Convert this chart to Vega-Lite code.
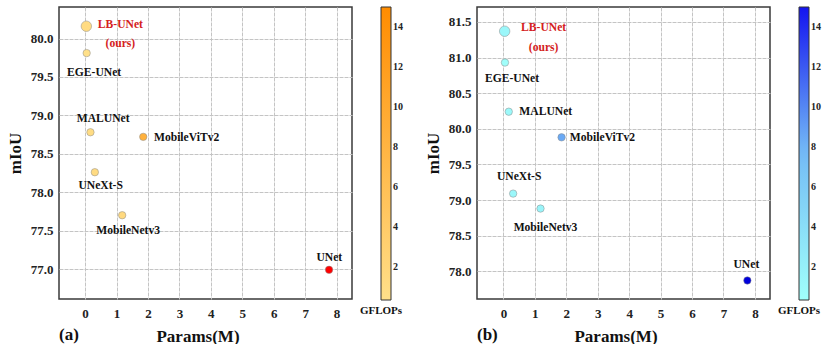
{
  "$schema": "https://vega.github.io/schema/vega-lite/v6.json",
  "background": "white",
  "padding": {"left": 5, "top": 6, "right": 0, "bottom": 0},
  "config": {
    "font": "Liberation Serif",
    "view": {"stroke": "#3a3a3a", "strokeWidth": 1.5},
    "axis": {"labelFontSize": 13, "labelFontWeight": "bold", "labelColor": "#222", "titleFontSize": 17, "titleFontWeight": "bold", "titleColor": "#111", "ticks": false, "domain": false, "gridColor": "#c4c4c4", "gridDash": [4, 1], "labelPadding": 6, "titlePadding": 6},
    "axisX": {"labelPadding": 8, "titlePadding": 8, "titleX": 138.5},
    "legend": {"titleOrient": "bottom", "titleFontSize": 11, "titleFontWeight": "bold", "titleColor": "#111", "labelFontSize": 10, "labelFontWeight": "bold", "labelColor": "#222", "gradientLength": 293, "gradientThickness": 10, "gradientStrokeColor": "#333", "gradientStrokeWidth": 1, "offset": 8, "labelOffset": 6, "labelOverlap": false, "titlePadding": 4, "titleAnchor": "start", "titleAlign": "center", "direction": "vertical"},
    "text": {"font": "Liberation Serif", "fontWeight": "bold", "fontSize": 11.6, "baseline": "middle", "color": "#111"}
  },
  "datasets": {
    "seg": [
      {"model": "LB-UNet", "params": 0.04, "gflops": 1.2, "miou_a": 80.16, "miou_b": 81.37},
      {"model": "EGE-UNet", "params": 0.05, "gflops": 0.4, "miou_a": 79.81, "miou_b": 80.93},
      {"model": "MALUNet", "params": 0.17, "gflops": 1.0, "miou_a": 78.78, "miou_b": 80.24},
      {"model": "MobileViTv2", "params": 1.85, "gflops": 8.5, "miou_a": 78.72, "miou_b": 79.88},
      {"model": "UNeXt-S", "params": 0.31, "gflops": 1.2, "miou_a": 78.26, "miou_b": 79.09},
      {"model": "MobileNetv3", "params": 1.18, "gflops": 1.5, "miou_a": 77.7, "miou_b": 78.88},
      {"model": "UNet", "params": 7.76, "gflops": 40, "miou_a": 76.99, "miou_b": 77.87}
    ]
  },
  "resolve": {"scale": {"fill": "independent", "x": "independent", "y": "independent"}},
  "spacing": 19,
  "hconcat": [
    {
      "width": 293, "height": 292,
      "data": {"name": "seg"},
      "title": {"text": "(a)", "orient": "bottom", "anchor": "start", "frame": "group", "offset": -17, "fontSize": 17, "fontWeight": "bold", "font": "Liberation Serif", "color": "#111"},
      "encoding": {
        "x": {"field": "params", "type": "quantitative", "scale": {"domain": [-0.83, 8.49], "nice": false, "zero": false}, "axis": {"values": [0, 1, 2, 3, 4, 5, 6, 7, 8], "title": "Params(M)"}},
        "y": {"field": "miou_a", "type": "quantitative", "scale": {"domain": [76.61, 80.41], "nice": false, "zero": false}, "axis": {"values": [77, 77.5, 78, 78.5, 79, 79.5, 80], "format": ".1f", "title": "mIoU"}}
      },
      "layer": [
        {
          "mark": {"type": "point", "filled": true, "opacity": 1, "stroke": "#8a8a8a", "strokeWidth": 0.5},
          "encoding": {
            "fill": {"field": "gflops", "type": "quantitative", "scale": {"domain": [0.34, 15], "range": ["#ffe08a", "#ff8c00"], "interpolate": "rgb", "clamp": false, "nice": false, "zero": false}, "legend": {"title": "GFLOPs", "values": [2, 4, 6, 8, 10, 12, 14]}},
            "size": {"condition": {"test": "datum.model === 'LB-UNet'", "value": 110}, "value": 55}
          }
        },
        {"transform": [{"filter": "datum.model === 'LB-UNet'"}], "mark": {"type": "text", "text": ["LB-UNet", "(ours)"], "align": "center", "baseline": "top", "dx": 34, "dy": -7, "lineHeight": 19, "color": "#d42020"}},
        {"transform": [{"filter": "datum.model === 'EGE-UNet'"}], "mark": {"type": "text", "align": "center", "dx": 7.5, "dy": 20}, "encoding": {"text": {"field": "model"}}},
        {"transform": [{"filter": "datum.model === 'MALUNet'"}], "mark": {"type": "text", "align": "center", "dx": 12.7, "dy": -13}, "encoding": {"text": {"field": "model"}}},
        {"transform": [{"filter": "datum.model === 'MobileViTv2'"}], "mark": {"type": "text", "align": "left", "dx": 10.7, "dy": 1}, "encoding": {"text": {"field": "model"}}},
        {"transform": [{"filter": "datum.model === 'UNeXt-S'"}], "mark": {"type": "text", "align": "center", "dx": 5.8, "dy": 13.3}, "encoding": {"text": {"field": "model"}}},
        {"transform": [{"filter": "datum.model === 'MobileNetv3'"}], "mark": {"type": "text", "align": "center", "dx": 6, "dy": 15.3}, "encoding": {"text": {"field": "model"}}},
        {"transform": [{"filter": "datum.model === 'UNet'"}], "mark": {"type": "text", "align": "center", "dx": 0.3, "dy": -12}, "encoding": {"text": {"field": "model"}}}
      ]
    },
    {
      "width": 293, "height": 292,
      "data": {"name": "seg"},
      "title": {"text": "(b)", "orient": "bottom", "anchor": "start", "frame": "group", "offset": -17, "fontSize": 17, "fontWeight": "bold", "font": "Liberation Serif", "color": "#111"},
      "encoding": {
        "x": {"field": "params", "type": "quantitative", "scale": {"domain": [-0.84, 8.48], "nice": false, "zero": false}, "axis": {"values": [0, 1, 2, 3, 4, 5, 6, 7, 8], "title": "Params(M)"}},
        "y": {"field": "miou_b", "type": "quantitative", "scale": {"domain": [77.61, 81.71], "nice": false, "zero": false}, "axis": {"values": [78, 78.5, 79, 79.5, 80, 80.5, 81, 81.5], "format": ".1f", "title": "mIoU"}}
      },
      "layer": [
        {
          "mark": {"type": "point", "filled": true, "opacity": 1, "stroke": "#8a8a8a", "strokeWidth": 0.5},
          "encoding": {
            "fill": {"field": "gflops", "type": "quantitative", "scale": {"domain": [0.34, 7.67, 15], "range": ["#a0fffa", "#74bcf6", "#1414f0"], "interpolate": "rgb", "clamp": false, "nice": false, "zero": false}, "legend": {"title": "GFLOPs", "values": [2, 4, 6, 8, 10, 12, 14]}},
            "size": {"condition": {"test": "datum.model === 'LB-UNet'", "value": 110}, "value": 55}
          }
        },
        {"transform": [{"filter": "datum.model === 'LB-UNet'"}], "mark": {"type": "text", "text": ["LB-UNet", "(ours)"], "align": "center", "baseline": "top", "dx": 39, "dy": -9, "lineHeight": 19.3, "color": "#d42020"}},
        {"transform": [{"filter": "datum.model === 'EGE-UNet'"}], "mark": {"type": "text", "align": "center", "dx": 7, "dy": 16.7}, "encoding": {"text": {"field": "model"}}},
        {"transform": [{"filter": "datum.model === 'MALUNet'"}], "mark": {"type": "text", "align": "left", "dx": 10.6, "dy": 0.7}, "encoding": {"text": {"field": "model"}}},
        {"transform": [{"filter": "datum.model === 'MobileViTv2'"}], "mark": {"type": "text", "align": "left", "dx": 8.3, "dy": 0.7}, "encoding": {"text": {"field": "model"}}},
        {"transform": [{"filter": "datum.model === 'UNeXt-S'"}], "mark": {"type": "text", "align": "center", "dx": 6, "dy": -16.7}, "encoding": {"text": {"field": "model"}}},
        {"transform": [{"filter": "datum.model === 'MobileNetv3'"}], "mark": {"type": "text", "align": "center", "dx": 5, "dy": 19}, "encoding": {"text": {"field": "model"}}},
        {"transform": [{"filter": "datum.model === 'UNet'"}], "mark": {"type": "text", "align": "center", "dx": -1, "dy": -15.7}, "encoding": {"text": {"field": "model"}}}
      ]
    }
  ]
}
